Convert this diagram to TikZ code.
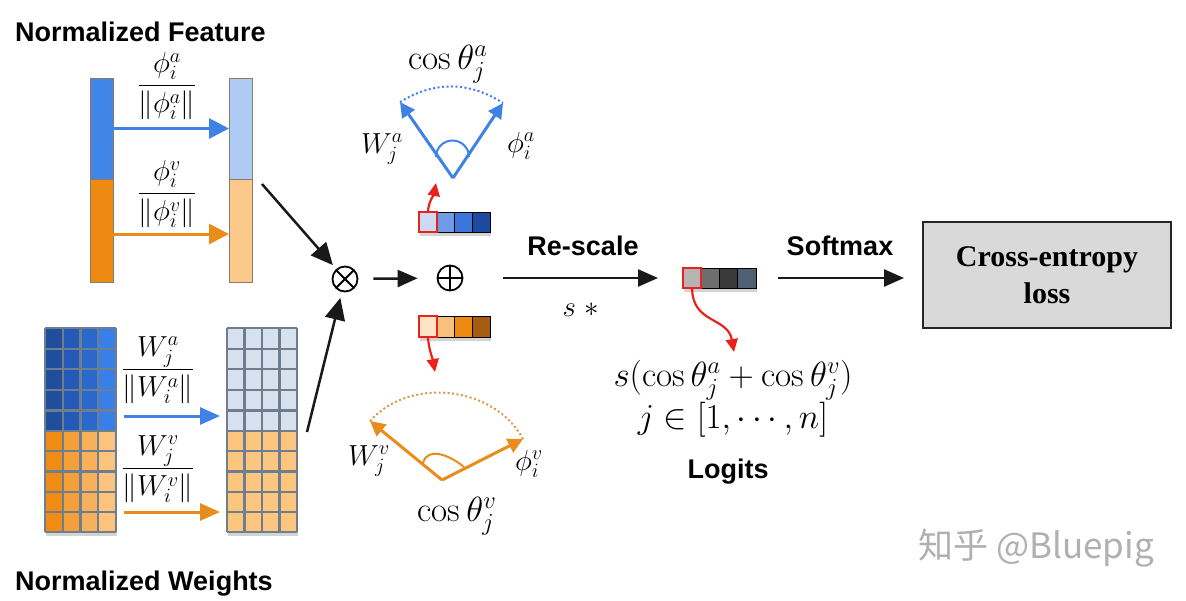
\RequirePackage{fix-cm}
\documentclass[tikz,border=0pt]{standalone}
\usepackage{fontspec}
\newfontfamily\lsans{Liberation Sans}
\newfontfamily\lserif{Liberation Serif}
\newfontfamily\cjk{Noto Sans CJK SC}
\usetikzlibrary{arrows.meta,shadows,calc}
\definecolor{fblue}{HTML}{4285E8}
\definecolor{forange}{HTML}{EE8A12}
\definecolor{lblue}{HTML}{AECBF5}
\definecolor{lorange}{HTML}{FDC98A}
\definecolor{barline}{HTML}{8A7A6A}
\definecolor{gridc}{HTML}{6E7E8E}
\definecolor{redc}{HTML}{E8231E}
\definecolor{boxgray}{HTML}{D9D9D9}
\definecolor{arrblue}{HTML}{3F82E6}
\definecolor{arrorange}{HTML}{EA8C1C}
\definecolor{dotorange}{HTML}{D99A45}
\definecolor{mb1}{HTML}{1E4E9C}
\definecolor{mb2}{HTML}{2459B5}
\definecolor{mb3}{HTML}{2A68CC}
\definecolor{mb4}{HTML}{3A7FE8}
\definecolor{mo1}{HTML}{F08C14}
\definecolor{mo2}{HTML}{F3A03A}
\definecolor{mo3}{HTML}{F6B15A}
\definecolor{mo4}{HTML}{FBC37C}
\definecolor{rb}{HTML}{D8E2EE}
\definecolor{ro}{HTML}{FCC67F}
\definecolor{va1c}{HTML}{CDD8F2}
\definecolor{va2c}{HTML}{6F9BE6}
\definecolor{va3c}{HTML}{3B76DB}
\definecolor{va4c}{HTML}{1C4A9E}
\definecolor{vo1c}{HTML}{FDE3C6}
\definecolor{vo2c}{HTML}{F7C07E}
\definecolor{vo3c}{HTML}{EE8A12}
\definecolor{vo4c}{HTML}{A65A12}
\definecolor{lg1c}{HTML}{B4B4B4}
\definecolor{lg2c}{HTML}{6E6E6E}
\definecolor{lg3c}{HTML}{3A3A3A}
\definecolor{lg4c}{HTML}{4F6072}
\definecolor{wmark}{HTML}{B0B0B0}
\tikzset{
  lbl/.style={font=\lsans\bfseries\fontsize{27}{32}\selectfont, inner sep=0pt},
  mth/.style={font=\fontsize{35}{41}\selectfont, inner sep=0pt},
  mths/.style={font=\fontsize{29}{34}\selectfont, inner sep=0pt},
  bar/.style={rectangle, inner sep=0pt, outer sep=0pt, draw=barline, line width=0.8pt, minimum width=23pt},
  matn/.style={rectangle, inner sep=0pt, outer sep=0pt, draw=none},
  cell/.style={rectangle, inner sep=0pt, outer sep=0pt, minimum width=17.75pt, minimum height=20pt, draw=black, line width=0.8pt},
  selcell/.style={cell, draw=redc, line width=2.2pt},
  gridline/.style={draw=gridc, line width=2.2pt},
  shad/.style={drop shadow={shadow xshift=1pt, shadow yshift=-4pt, opacity=0.35}, fill=white},
  carrb/.style={draw=arrblue, line width=3pt, -{Triangle[length=20pt,width=20pt]}},
  carro/.style={draw=arrorange, line width=3pt, -{Triangle[length=20pt,width=20pt]}},
  warrb/.style={draw=arrblue, line width=3pt, -{Triangle[length=20pt,width=17pt]}},
  warro/.style={draw=arrorange, line width=3pt, -{Triangle[length=20pt,width=17pt]}},
  angb/.style={draw=arrblue, line width=3pt, -{Triangle[length=15pt,width=15pt]}},
  ango/.style={draw=arrorange, line width=3pt, -{Triangle[length=15pt,width=15pt]}},
  dotb/.style={draw=arrblue, line width=2pt, dash pattern=on 2pt off 2.5pt},
  doto/.style={draw=dotorange, line width=2pt, dash pattern=on 2pt off 2.5pt},
  redarr/.style={draw=redc, line width=2.2pt, -{Triangle[length=13pt,width=12pt]}},
  blk/.style={draw=black!90, line width=2.5pt, -{Triangle[length=22pt,width=20pt]}},
  blkh/.style={draw=black!90, line width=2.5pt, -{Triangle[length=20pt,width=17pt]}},
  opnode/.style={circle, draw=black, line width=1.8pt, minimum size=25pt, inner sep=0pt},
  times/.style={opnode, path picture={
     \draw[line width=1.8pt] (path picture bounding box.north west) -- (path picture bounding box.south east);
     \draw[line width=1.8pt] (path picture bounding box.north east) -- (path picture bounding box.south west);}},
  oplus/.style={opnode, path picture={
     \draw[line width=1.8pt] (path picture bounding box.north) -- (path picture bounding box.south);
     \draw[line width=1.8pt] (path picture bounding box.east) -- (path picture bounding box.west);}},
  cebox/.style={rectangle, draw=black!85, line width=2pt, fill=boxgray, minimum width=248pt, minimum height=106pt,
     align=center, font=\lserif\bfseries\fontsize{30}{37}\selectfont}
}
\begin{document}
\begin{tikzpicture}[x=1pt,y=-1pt]
\useasboundingbox (0,0) rectangle (1186,600);

% ---------- headings
\node[lbl, anchor=base west] (hf) at (15,41) {Normalized Feature};
\node[lbl, anchor=base west] (hw) at (15,590) {Normalized Weights};

% ---------- feature bars
\node[bar, fill=fblue, minimum height=101pt] (fa) at (101.5,128.5) {};
\node[bar, fill=forange, minimum height=103pt] (fv) at (101.5,230.5) {};
\node[bar, fill=lblue, minimum height=101pt] (fa2) at (240.5,128.5) {};
\node[bar, fill=lorange, minimum height=103pt] (fv2) at (240.5,230.5) {};
\draw[carrb] (fa.east) -- (fa2.west);
\draw[carro] ($(fv.east)+(0,3.5)$) -- ($(fv2.west)+(0,3.5)$);
\node[mths] (fra) at (167,86) {$\displaystyle\frac{\phi_i^a}{\left\Vert\phi_i^a\right\Vert}$};
\node[mths] (frv) at (167,194) {$\displaystyle\frac{\phi_i^v}{\left\Vert\phi_i^v\right\Vert}$};

% ---------- weight matrices (left)
\path[shad] (45,328) rectangle (116,532);
\foreach \c/\cb/\co in {0/mb1/mo1,1/mb2/mo2,2/mb3/mo3,3/mb4/mo4}{
  \fill[\cb] (45+\c*17.75,328) rectangle ++(17.75,103);
  \fill[\co] (45+\c*17.75,431) rectangle ++(17.75,101);
}
\foreach \k in {0,...,4} \draw[gridline] (45+\k*17.75,328) -- ++(0,204);
\foreach \r in {0,...,5} \draw[gridline] (45,328+\r*20.6) -- ++(71,0);
\foreach \r in {1,...,5} \draw[gridline] (45,431+\r*20.2) -- ++(71,0);
\node[matn, minimum width=71pt, minimum height=103pt] (wa) at (80.5,379.5) {};
\node[matn, minimum width=71pt, minimum height=101pt] (wv) at (80.5,481.5) {};

% ---------- weight matrices (right)
\path[shad] (227,328) rectangle (297,532);
\fill[rb] (227,328) rectangle (297,431);
\fill[ro] (227,431) rectangle (297,532);
\foreach \k in {0,...,4} \draw[gridline] (227+\k*17.5,328) -- ++(0,204);
\foreach \r in {0,...,5} \draw[gridline] (227,328+\r*20.6) -- ++(70,0);
\foreach \r in {1,...,5} \draw[gridline] (227,431+\r*20.2) -- ++(70,0);
\node[matn, minimum width=70pt, minimum height=103pt] (wa2) at (262,379.5) {};
\node[matn, minimum width=70pt, minimum height=101pt] (wv2) at (262,481.5) {};

\draw[warrb] ($(wa.east)+(8,36.5)$) -- ($(wa2.west)+(-7,36.5)$);
\draw[warro] ($(wv.east)+(8,30.5)$) -- ($(wv2.west)+(-7,30.5)$);
\node[mths] (fwa) at (158,370) {$\displaystyle\frac{W_j^a}{\left\Vert W_i^a\right\Vert}$};
\node[mths] (fwv) at (158,469) {$\displaystyle\frac{W_j^v}{\left\Vert W_i^v\right\Vert}$};

% ---------- operators
\node[times] (ot) at (345,279) {};
\node[oplus] (op) at (450,278) {};
\coordinate (fs) at (262,184);
\coordinate (ws) at (307,432);
\draw[blk, shorten >=5pt] (fs) -- (ot);
\draw[blk, shorten >=6pt] (ws) -- (ot);
\draw[blkh, shorten <=15pt, shorten >=19pt] (ot) -- (op);

% ---------- blue vector + angle
\path[shad] (419,212) rectangle (490,232);
\foreach \i/\cl in {2/va2c,3/va3c,4/va4c}
  \node[cell, fill=\cl] (va\i) at (419+17.75*\i-8.875,222) {};
\node[selcell, fill=va1c] (va1) at (427.875,222) {};
\coordinate (tipA) at (436,183);
\draw[redarr] (va1.north) to[out=85,in=-100] (tipA);

\coordinate (VA) at (453,178);
\coordinate (LA) at (400,102);
\coordinate (RA) at (503,103);
\draw[dotb] (LA) to[bend left=32] (RA);
\draw[angb] (VA) -- (LA);
\draw[angb] (VA) -- (RA);
\draw[draw=arrblue, line width=2pt] (436,157) arc[start angle=180, end angle=0, radius=16.5pt];
\node[mth] (ca) at (448,64) {$\cos\theta_j^a$};
\node[mths] (wla) at (382,149) {$W_j^a$};
\node[mths] (pha) at (521,146) {$\phi_i^a$};

% ---------- orange vector + angle
\path[shad] (419,316) rectangle (490,337);
\foreach \i/\cl in {2/vo2c,3/vo3c,4/vo4c}
  \node[cell, fill=\cl, minimum height=21pt] (vo\i) at (419+17.75*\i-8.875,326.5) {};
\node[selcell, fill=vo1c, minimum height=21pt] (vo1) at (427.875,326.5) {};
\coordinate (tipB) at (435,372);
\draw[redarr] (vo1.south) to[out=-85,in=100] (tipB);

\coordinate (VO) at (442,480);
\coordinate (LO) at (370,421);
\coordinate (RO) at (523,439);
\draw[doto] (LO) to[bend left=55] (RO);
\draw[ango] (VO) -- (LO);
\draw[ango] (VO) -- (RO);
\draw[draw=arrorange, line width=2pt] (423,463) to[out=75,in=140,looseness=1.1] (464,467);
\node[mth] (cv) at (457,516) {$\cos\theta_j^v$};
\node[mths] (wlv) at (369,461) {$W_j^v$};
\node[mths] (phv) at (529,464) {$\phi_i^v$};

% ---------- logits
\path[shad] (683,268) rectangle (756,288);
\foreach \i/\cl in {2/lg2c,3/lg3c,4/lg4c}
  \node[cell, fill=\cl, minimum width=18.25pt] (lg\i) at (683+18.25*\i-9.125,278) {};
\node[selcell, fill=lg1c, minimum width=18.25pt] (lg1) at (692.125,278) {};
\coordinate (tipC) at (734,352);
\draw[redarr] (lg1.south) to[out=-90,in=100,looseness=1.2] (tipC);

\draw[blkh, shorten <=40pt, shorten >=25pt] (op) -- (lg1.west);
\node[lbl, anchor=base] (rs) at (583,255) {Re-scale};
\node[mths] (sx) at (581,310) {$s\ \ast$};

\node[mth] (form) at (733,380) {$s\bigl(\cos\theta_j^a+\cos\theta_j^v\bigr)$};
\node[mth] (jr) at (733,420) {$j\in[1,\cdots,n]$};
\node[lbl, anchor=base] (lgt) at (728,478) {Logits};

% ---------- softmax + loss
\node[cebox] (ce) at (1047,275) {Cross-entropy\\loss};
\draw[blkh, shorten <=22pt, shorten >=18pt] (lg4.east) -- (lg4.east -| ce.west);
\node[lbl, anchor=base] (sm) at (840,255) {Softmax};

% ---------- watermark
\node[font=\cjk\fontsize{35}{40}\selectfont, text=wmark, inner sep=0pt] (wm) at (1036,548) {知乎 @Bluepig};
\end{tikzpicture}
\end{document}
